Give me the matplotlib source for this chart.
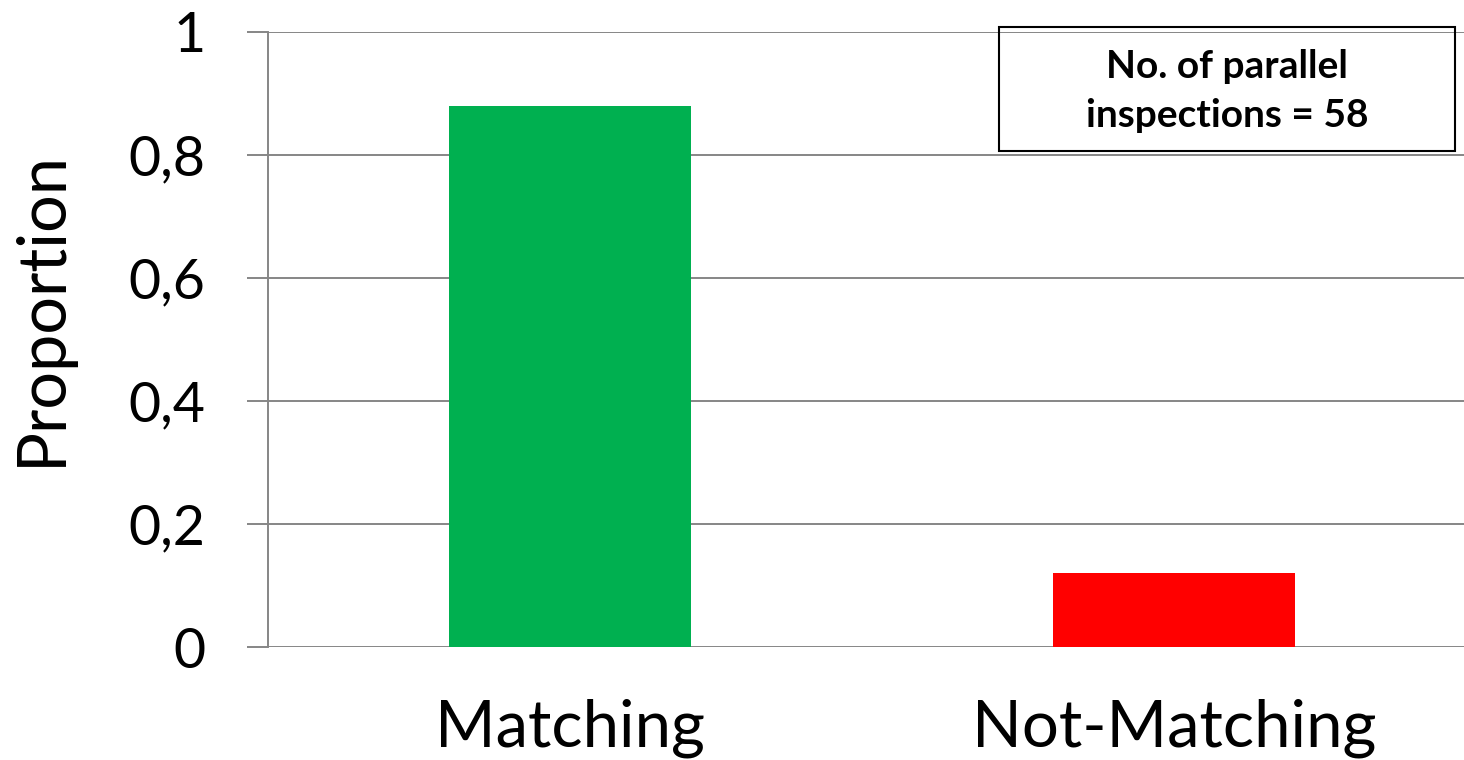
import matplotlib
matplotlib.use('Agg')
import matplotlib.pyplot as plt
from matplotlib.patches import Rectangle

# datos
categorias = ['Matching', 'Not-Matching']
proporcion = [51 / 58, 7 / 58]
colores = ['#00B050', '#FF0000']
yticks = [0, 0.2, 0.4, 0.6, 0.8, 1.0]
ytick_labels = ['0', '0,2', '0,4', '0,6', '0,8', '1']

plt.rcParams['font.family'] = ['Lato', 'DejaVu Sans']
gris = '#868686'

fig = plt.figure(figsize=(14.64, 7.6), dpi=100)
ax = fig.add_axes([268 / 1464, 1 - 647 / 760, 1208 / 1464, 615 / 760])

x = list(range(len(categorias)))
ax.bar(x, proporcion, width=0.4, color=colores, zorder=3)

ax.set_xlim(-0.5, 1.5)
ax.set_ylim(0, 1)
ax.set_yticks(yticks)
ax.set_yticklabels(ytick_labels, fontsize=40)
ax.set_xticks(x)
ax.set_xticklabels(categorias, fontsize=47)

ax.grid(axis='y', color=gris, linewidth=1.4, zorder=0)
ax.set_axisbelow(True)
for s in ['top', 'right', 'bottom']:
    ax.spines[s].set_visible(False)
ax.spines['left'].set_color(gris)
ax.spines['left'].set_linewidth(1.4)
ax.tick_params(axis='y', length=15, width=1.4, color=gris, pad=30)
ax.tick_params(axis='x', length=0, pad=37)

fig.text(42 / 1464, 1 - 308 / 760, 'Proportion', rotation=90,
         fontsize=48, ha='center', va='center')

# recuadro con el número de inspecciones
caja = Rectangle((999 / 1464, 1 - 151 / 760), 456 / 1464, 124 / 760,
                 transform=fig.transFigure, fill=False, edgecolor='black',
                 linewidth=1.5, zorder=5)
fig.patches.append(caja)
fig.text(1227 / 1464, 1 - 91 / 760, 'No. of parallel\ninspections = 58',
         fontsize=28, fontweight='bold', ha='center', va='center',
         linespacing=1.45)

plt.savefig('out.png', dpi=100)
